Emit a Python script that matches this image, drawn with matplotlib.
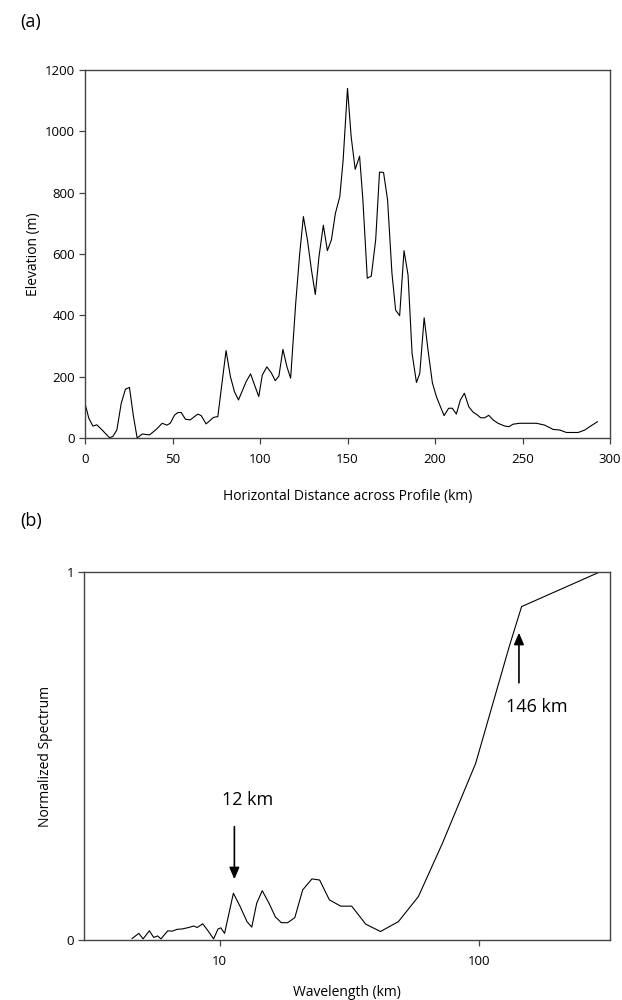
import matplotlib.pyplot as plt
from matplotlib.ticker import NullLocator

plt.rcParams['font.family'] = ['Open Sans', 'DejaVu Sans']

# (a) topographic profile
distance_km = [0, 2.2, 4.5, 6.8, 9.8, 14.0, 15.9, 18.2, 20.7, 23.1, 25.4, 27.7, 29.8, 32.7, 36.9,
               40.7, 44.1, 46.8, 48.7, 51.2, 53.1, 55.0, 57.4, 60.1, 64.5, 66.4, 69.2, 73.4, 75.9,
               80.6, 83.1, 85.4, 87.7, 92.1, 94.6, 99.3, 101.3, 103.9, 106.4, 108.7, 110.8, 113.1,
               115.4, 117.5, 120.4, 122.7, 124.8, 127.1, 129.4, 131.6, 133.7, 136.2, 138.5, 140.8,
               143.1, 145.6, 147.5, 150.0, 152.1, 154.4, 156.9, 158.8, 161.3, 163.6, 166.1, 168.3,
               170.6, 172.9, 175.4, 177.5, 179.8, 182.3, 184.6, 186.9, 189.4, 191.3, 193.8, 196.0,
               198.5, 200.8, 203.1, 205.2, 207.8, 209.9, 212.2, 214.5, 216.8, 219.3, 221.8, 224.0,
               226.1, 228.4, 230.7, 233.2, 236.0, 239.8, 242.3, 244.6, 248.4, 254.1, 258.0, 262.7,
               267.5, 271.3, 275.1, 281.8, 285.6, 288.4, 292.8]
elevation_m = [113, 64, 39, 43, 26, 1, 5, 26, 113, 159, 165, 70, 0, 13, 10,
               28, 48, 42, 48, 75, 83, 83, 61, 59, 78, 73, 46, 67, 70,
               285, 200, 151, 124, 184, 209, 135, 205, 232, 213, 187, 202, 289,
               232, 195, 439, 602, 722, 646, 548, 468, 591, 694, 611, 646,
               733, 787, 906, 1140, 982, 876, 919, 776, 521, 528, 646, 867,
               866, 776, 537, 417, 399, 611, 531, 276, 181, 211, 392, 287,
               180, 135, 102, 73, 97, 97, 78, 124, 146, 102, 84, 76,
               66, 66, 74, 59, 48, 39, 37, 45, 48, 48, 48, 42,
               28, 26, 18, 18, 26, 37, 53]

# (b) normalized spectrum vs wavelength
wavelength_km = [4.60, 4.88, 5.07, 5.36, 5.57, 5.77, 5.94, 6.31, 6.56, 6.86,
                 7.17, 7.60, 7.95, 8.19, 8.61, 9.02, 9.48, 9.86, 10.1, 10.45,
                 11.3, 12.0, 12.75, 13.3, 13.9, 14.6, 15.5, 16.4, 17.3, 18.3,
                 19.5, 20.9, 22.7, 24.3, 26.5, 29.3, 32.3, 36.6, 41.7, 48.9,
                 58.4, 72.3, 97.1, 131, 146, 292]
spectrum = [0.004, 0.018, 0.003, 0.025, 0.007, 0.011, 0.003, 0.025, 0.024, 0.029,
            0.030, 0.034, 0.038, 0.034, 0.044, 0.025, 0.003, 0.030, 0.033, 0.018,
            0.127, 0.091, 0.050, 0.035, 0.100, 0.134, 0.100, 0.063, 0.047, 0.047,
            0.061, 0.136, 0.166, 0.163, 0.109, 0.092, 0.092, 0.043, 0.023, 0.050,
            0.118, 0.263, 0.480, 0.799, 0.906, 1.0]

elev_ticks = [0, 200, 400, 600, 800, 1000, 1200]
dist_ticks = [0, 50, 100, 150, 200, 250, 300]

SPINE = '#444444'


def style_axes(ax):
    for s in ax.spines.values():
        s.set_color(SPINE)
        s.set_linewidth(1.0)
    ax.tick_params(direction='out', length=4, width=0.9, color=SPINE,
                   labelsize=9.5, top=False, right=False)
    ax.tick_params(axis='x', pad=7)
    ax.tick_params(axis='y', pad=3)


fig = plt.figure(figsize=(6.22, 10), dpi=100)

ax1 = fig.add_axes([85 / 622, 1 - 438 / 1000, 525 / 622, 368 / 1000])
ax1.plot(distance_km, elevation_m, color='black', lw=0.8)
ax1.set_xlim(0, 300)
ax1.set_ylim(0, 1200)
ax1.set_xticks(dist_ticks)
ax1.set_yticks(elev_ticks)
ax1.set_xlabel('Horizontal Distance across Profile (km)', fontsize=10, labelpad=16)
ax1.set_ylabel('Elevation (m)', fontsize=10, labelpad=3)
style_axes(ax1)

ax2 = fig.add_axes([84 / 622, 1 - 940 / 1000, 526 / 622, 368 / 1000])
ax2.plot(wavelength_km, spectrum, color='black', lw=0.8)
ax2.set_xscale('log')
ax2.set_xlim(3, 320)
ax2.set_ylim(0, 1)
ax2.set_xticks([10, 100])
ax2.set_xticklabels(['10', '100'])
ax2.xaxis.set_minor_locator(NullLocator())
ax2.set_yticks([0, 1])
ax2.set_yticklabels(['0', '1'])
ax2.set_xlabel('Wavelength (km)', fontsize=10, labelpad=12)
ax2.set_ylabel('Normalized Spectrum', fontsize=10, labelpad=10)
style_axes(ax2)

arrow = dict(arrowstyle='-|>,head_length=0.7,head_width=0.3', color='black', lw=1.2,
             shrinkA=0, shrinkB=0)
ax2.annotate('', xy=(11.4, 0.165), xytext=(11.4, 0.308), arrowprops=arrow)
ax2.text(12.85, 0.38, '12 km', ha='center', va='center', fontsize=13)
ax2.annotate('', xy=(142.6, 0.835), xytext=(142.6, 0.699), arrowprops=arrow)
ax2.text(127, 0.633, '146 km', ha='left', va='center', fontsize=13)

fig.text(20 / 622, 1 - 22 / 1000, '(a)', ha='left', va='center', fontsize=13)
fig.text(20 / 622, 1 - 521 / 1000, '(b)', ha='left', va='center', fontsize=13)

fig.savefig('out.png', dpi=100)
